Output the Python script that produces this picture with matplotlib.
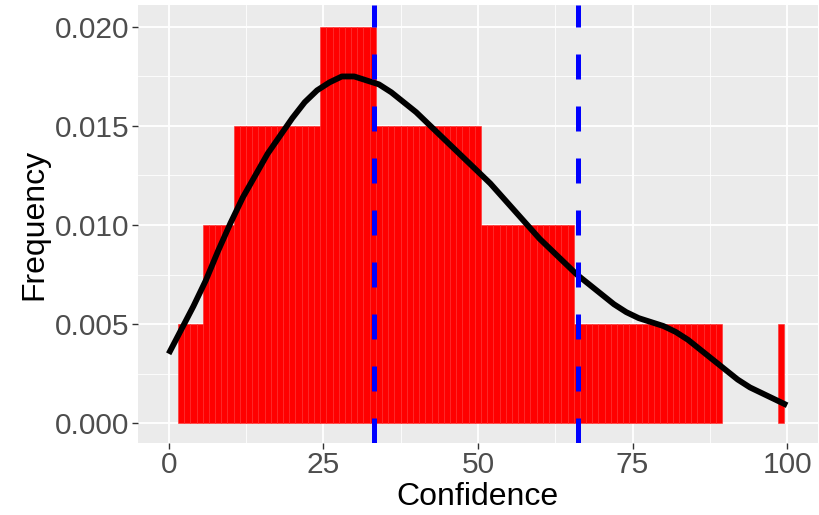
"""
Histograma de confianza con curva de densidad y cortes en tercios (estilo ggplot).
"""

import matplotlib
matplotlib.use("Agg")
import matplotlib.pyplot as plt
from matplotlib.ticker import MultipleLocator

plt.rcParams["font.family"] = ["Liberation Sans", "DejaVu Sans"]

# -----------------------------
# Datos
# -----------------------------
seg_start = [2, 6, 11, 25, 34, 51, 66, 99]
seg_end = [5, 10, 24, 33, 50, 65, 89, 99]
seg_density = [0.005, 0.010, 0.015, 0.020, 0.015, 0.010, 0.005, 0.005]

dens_x = [0, 2, 4, 6, 8, 10, 12, 14, 16, 18, 20, 22, 24, 26, 28, 30, 32, 34,
          36, 38, 40, 42, 44, 46, 48, 50, 52, 54, 56, 58, 60, 62, 64, 66, 68,
          70, 72, 74, 76, 78, 80, 82, 84, 86, 88, 90, 92, 94, 96, 98, 100]
dens_y = [0.0035, 0.0047, 0.0059, 0.0072, 0.0087, 0.0101, 0.0114, 0.0125,
          0.0136, 0.0145, 0.0154, 0.0162, 0.0168, 0.0172, 0.0175, 0.0175,
          0.0173, 0.0171, 0.0167, 0.0162, 0.0157, 0.0151, 0.0145, 0.0139,
          0.0133, 0.0127, 0.0121, 0.0114, 0.0107, 0.0100, 0.0093, 0.0087,
          0.0081, 0.0075, 0.0070, 0.0065, 0.0060, 0.0056, 0.0053, 0.0051,
          0.0049, 0.0046, 0.0042, 0.0037, 0.0032, 0.0027, 0.0022, 0.0018,
          0.0015, 0.0012, 0.0009]

cortes = [33.2, 66.2]

# expandir los tramos en barras de ancho 1
bar_x, bar_h = [], []
for a, b, d in zip(seg_start, seg_end, seg_density):
    for v in range(a, b + 1):
        bar_x.append(v)
        bar_h.append(d)

# -----------------------------
# Figura
# -----------------------------
fig = plt.figure(figsize=(8.2, 5.15), dpi=100)
ax = fig.add_axes([0.168, 0.14, 0.8296, 0.85])
ax.set_facecolor("#EBEBEB")
for s in ax.spines.values():
    s.set_visible(False)

ax.xaxis.set_major_locator(MultipleLocator(25))
ax.xaxis.set_minor_locator(MultipleLocator(12.5))
ax.yaxis.set_minor_locator(MultipleLocator(0.0025))
ax.grid(True, which="major", color="white", linewidth=1.3)
ax.grid(True, which="minor", color="white", linewidth=0.6)
ax.set_axisbelow(True)

ax.bar(bar_x, bar_h, width=1.0, color="#FF0000", edgecolor="#FF2A2A", linewidth=0.4)
ax.plot(dens_x, dens_y, color="black", linewidth=4.2,
        solid_capstyle="butt", solid_joinstyle="round", zorder=3)
for c in cortes:
    ax.axvline(c, color="#0000FF", linewidth=3.6, linestyle=(0, (5, 5.4)), zorder=4)

ax.set_xlim(-5, 105)
ax.set_ylim(-0.001, 0.0211)
ax.set_yticks([0, 0.005, 0.010, 0.015, 0.020])
ax.set_yticklabels(["0.000", "0.005", "0.010", "0.015", "0.020"])
ax.tick_params(which="major", length=4, width=1, color="#333333",
               labelsize=21.5, labelcolor="#4D4D4D", pad=2)
ax.tick_params(which="minor", length=0)

ax.set_xlabel("Confidence", fontsize=23, color="black", labelpad=2)
ax.set_ylabel("Frequency", fontsize=23, color="black", labelpad=4)

fig.savefig("out.png", dpi=100)
